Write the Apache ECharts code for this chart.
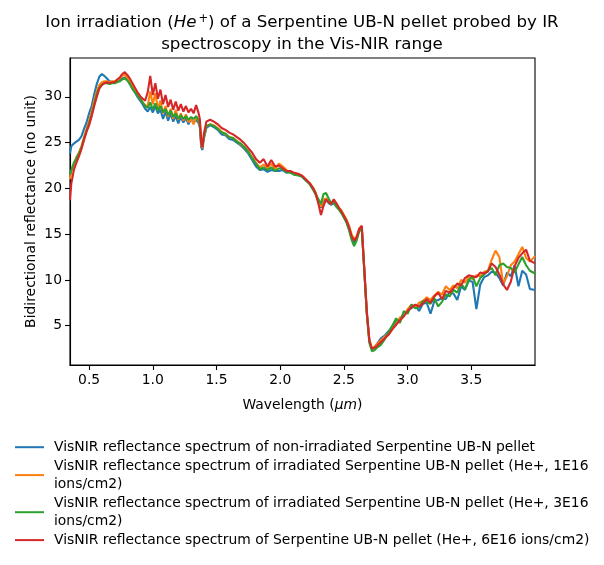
<!DOCTYPE html>
<html>
<head>
<meta charset="utf-8">
<script src="https://cdn.jsdelivr.net/npm/echarts@6/dist/echarts.min.js"></script>
<style>
html,body{margin:0;padding:0;background:#fff;}
#chart{width:604px;height:565px;}
</style>
</head>
<body>
<div id="chart"></div>
<script>
const wavelength = [
0.35,0.36,0.38,0.40,0.42,0.44,0.46,0.48,0.50,0.52,0.54,0.56,0.58,0.60,0.62,0.64,0.66,0.68,0.70,0.72,0.74,0.76,0.78,0.80,0.82,0.84,0.86,0.88,0.90,0.92,0.94,
0.96,0.98,1.00,1.02,1.04,1.06,1.08,1.10,1.12,1.14,1.16,1.18,1.20,1.22,1.24,1.26,1.28,1.30,1.32,1.34,1.36,1.37,1.38,1.39,1.40,1.42,
1.45,1.48,1.51,1.54,1.57,1.60,1.63,1.66,1.69,1.72,1.75,1.78,1.81,1.84,1.87,1.90,1.93,1.96,1.99,2.02,2.05,2.08,2.11,2.14,2.17,2.20,2.23,2.26,2.28,2.30,2.32,2.34,2.36,2.38,2.40,2.42,2.44,2.46,2.48,2.50,2.52,2.54,2.56,2.58,2.60,2.62,
2.64,2.66,2.68,2.70,2.72,2.74,2.76,
2.79,2.82,2.85,2.88,2.91,2.94,2.97,3.00,3.03,3.06,3.09,3.12,3.15,3.18,3.21,3.24,3.27,3.30,3.33,3.36,3.39,3.42,3.45,3.48,3.51,3.54,3.57,3.60,3.63,3.66,3.69,3.72,3.75,3.78,3.81,3.84,3.87,3.90,3.93,3.96,4.00
];

const nonIrradiated = [
23.8,24.6,24.9,25.1,25.3,25.7,26.5,27.2,28.2,29.0,30.3,31.4,32.2,32.5,32.3,32.0,31.7,31.6,31.6,31.8,31.9,32.0,32.1,31.9,31.4,30.9,30.5,30.0,29.6,29.2,28.7,
28.4,28.9,28.3,29.0,28.2,28.6,27.6,28.4,27.4,28.2,27.3,27.9,27.1,27.8,27.2,27.7,27.0,27.6,27.2,27.5,27.1,26.6,24.5,24.2,25.4,26.6,
26.9,26.7,26.4,25.9,25.8,25.4,25.3,25.0,24.7,24.3,23.8,23.1,22.4,22.0,22.1,21.8,22.0,21.9,21.9,22.0,21.7,21.8,21.5,21.5,21.3,20.9,20.5,19.9,19.3,18.5,17.9,18.6,18.7,18.4,18.2,18.4,18.1,17.8,17.4,16.9,16.3,15.5,14.6,14.1,14.6,15.4,
15.8,11.0,6.3,3.3,2.4,2.6,3.0,
3.6,3.9,4.4,4.8,5.5,5.7,6.3,6.6,6.9,7.2,6.6,7.4,7.5,6.3,7.7,7.8,8.0,7.9,8.7,8.5,7.8,9.3,8.9,9.9,9.8,6.8,9.5,10.3,10.5,10.9,10.8,10.2,9.4,10.8,10.4,11.6,9.3,11.0,10.6,9.0,8.9
];

const irradiated1E16 = [
21.0,21.8,22.6,23.4,23.9,24.6,25.6,26.5,27.4,28.4,29.6,30.6,31.3,31.6,31.7,31.7,31.6,31.7,31.7,31.8,32.0,32.3,32.4,32.1,31.6,31.1,30.6,30.2,29.8,29.4,29.1,
29.0,30.6,29.2,30.4,28.7,29.6,28.2,29.0,27.8,28.7,27.6,28.6,27.5,28.2,27.4,28.1,27.2,27.6,27.0,27.9,27.3,26.8,24.8,24.4,25.6,26.8,
27.0,26.9,26.6,26.2,25.9,25.6,25.5,25.2,24.8,24.5,24.0,23.4,22.8,22.3,22.6,22.2,22.7,22.1,22.7,22.4,22.0,21.8,21.6,21.6,21.4,21.0,20.6,20.0,19.5,18.6,18.0,18.8,18.9,18.5,18.3,18.6,18.3,17.9,17.6,17.1,16.6,15.9,15.0,14.4,14.8,15.6,
15.9,11.2,6.5,3.4,2.5,2.7,3.0,
3.4,3.8,4.2,4.7,5.2,5.9,6.1,6.8,7.3,7.0,7.5,7.7,8.1,7.8,8.3,8.7,8.4,9.3,8.9,9.4,9.1,10.0,9.7,10.3,10.1,10.5,10.4,10.9,11.0,12.2,13.2,12.5,9.6,10.4,11.6,12.0,12.8,13.6,12.4,12.0,12.6
];

const irradiated3E16 = [
21.5,22.0,22.8,23.3,23.8,24.5,25.4,26.3,27.1,28.0,29.2,30.3,31.0,31.3,31.5,31.5,31.4,31.5,31.5,31.6,31.7,31.9,32.0,31.8,31.4,30.9,30.5,30.1,29.8,29.4,29.0,
28.8,29.4,28.6,29.3,28.5,29.0,28.3,28.7,28.0,28.5,27.8,28.2,27.6,28.0,27.6,27.9,27.5,27.8,27.6,27.9,27.4,26.9,24.9,24.6,25.6,26.8,
27.0,26.8,26.5,26.1,26.0,25.6,25.5,25.1,24.9,24.5,24.0,23.3,22.7,22.1,22.3,22.0,22.3,21.9,22.2,22.1,21.8,21.7,21.5,21.4,21.3,20.9,20.5,19.8,19.3,18.8,18.3,19.4,19.5,18.9,18.4,18.5,18.0,17.7,17.3,16.8,16.3,15.5,14.4,13.7,14.3,15.3,
15.6,11.0,6.2,3.1,2.2,2.3,2.6,
2.9,3.5,4.3,5.0,5.8,5.3,6.6,6.3,7.3,6.9,7.0,7.7,7.6,7.4,8.0,7.1,7.6,8.4,8.2,8.9,8.6,9.6,9.0,10.0,10.4,9.3,10.2,10.6,11.0,11.3,10.5,11.6,11.8,11.4,11.3,10.8,11.7,12.5,11.6,11.0,10.7
];

const irradiated6E16 = [
18.7,20.5,22.0,22.8,23.5,24.3,25.3,26.2,26.9,27.9,29.0,30.0,30.9,31.3,31.5,31.6,31.5,31.6,31.6,31.9,32.1,32.5,32.7,32.4,32.0,31.5,31.0,30.5,30.1,29.8,29.6,
30.5,32.3,30.2,31.5,29.8,30.8,29.2,30.2,28.9,29.7,28.6,29.5,28.5,29.2,28.4,29.0,28.3,28.7,28.2,29.1,28.2,27.5,25.0,24.5,25.9,27.3,
27.5,27.3,27.0,26.6,26.4,26.1,25.9,25.6,25.3,24.9,24.4,23.9,23.2,22.8,23.2,22.4,23.1,22.4,22.5,22.2,21.9,21.9,21.7,21.6,21.4,21.0,20.6,20.0,19.4,18.3,17.1,18.1,18.8,18.5,18.3,18.8,18.4,17.9,17.5,17.0,16.5,15.8,14.8,14.3,14.6,15.6,
15.9,11.2,6.5,3.4,2.5,2.6,2.8,
3.2,3.6,4.0,4.6,5.1,5.6,6.0,6.6,7.0,7.3,7.1,7.4,7.9,7.5,8.2,8.6,7.9,8.8,8.6,9.1,9.6,9.4,10.2,10.5,10.4,10.3,10.8,10.7,10.9,11.8,11.4,10.6,9.5,8.9,9.8,11.5,12.4,12.9,13.3,12.1,11.8
];

const seriesNames = [
  'VisNIR reflectance spectrum of non-irradiated Serpentine UB-N pellet',
  'VisNIR reflectance spectrum of irradiated Serpentine UB-N pellet (He+, 1E16\nions/cm2)',
  'VisNIR reflectance spectrum of irradiated Serpentine UB-N pellet (He+, 3E16\nions/cm2)',
  'VisNIR reflectance spectrum of Serpentine UB-N pellet (He+, 6E16 ions/cm2)'
];
const seriesColors = ['#1f77b4', '#ff7f0e', '#2ca02c', '#d62728'];
const xTicks = [0.5, 1.0, 1.5, 2.0, 2.5, 3.0, 3.5];
const yTicks = [5, 10, 15, 20, 25, 30];

const allValues = [nonIrradiated, irradiated1E16, irradiated3E16, irradiated6E16];
const FONT = 'DejaVu Sans';

const chart = echarts.init(document.getElementById('chart'), null, {renderer: 'canvas'});
chart.setOption({
  animation: false,
  backgroundColor: '#fff',
  title: [
    {
      text: 'Ion irradiation ({i|He}{s|+}) of a Serpentine UB-N pellet probed by IR',
      left: 'center', top: 8,
      textStyle: {
        fontFamily: FONT, fontSize: 16.67, fontWeight: 'normal', color: '#000',
        rich: {
          i: {fontFamily: FONT, fontSize: 16.67, fontStyle: 'italic', color: '#000'},
          s: {fontFamily: FONT, fontSize: 11.5, color: '#000', verticalAlign: 'top', padding: [0, 0, 8, 2]}
        }
      }
    },
    {
      text: 'spectroscopy in the Vis-NIR range',
      left: 'center', top: 31,
      textStyle: {fontFamily: FONT, fontSize: 16.67, fontWeight: 'normal', color: '#000'}
    }
  ],
  grid: {left: 70, right: 69, top: 58, bottom: 200, show: true, borderColor: '#000', borderWidth: 1.1, containLabel: false},
  legend: {
    orient: 'vertical', left: 15, top: 438, padding: 0,
    itemWidth: 29, itemHeight: 2, itemGap: 0.3,
    icon: 'rect',
    data: seriesNames.map((n, i) => ({name: n, itemStyle: {color: seriesColors[i]}})),
    textStyle: {fontFamily: FONT, fontSize: 13.9, color: '#000', lineHeight: 18.4, padding: [0, 0, 0, 5]}
  },
  xAxis: {
    type: 'value', min: 0.35, max: 4.0,
    name: 'Wavelength ({i|μm})', nameLocation: 'middle', nameGap: 33,
    nameTextStyle: {fontFamily: FONT, fontSize: 13.9, color: '#000',
      rich: {i: {fontFamily: FONT, fontSize: 13.9, fontStyle: 'italic', color: '#000'}}},
    axisLine: {show: true, lineStyle: {color: '#000', width: 1.1}},
    axisTick: {show: true, length: 5, lineStyle: {color: '#000', width: 1.1}, customValues: xTicks},
    axisLabel: {fontFamily: FONT, fontSize: 13.9, color: '#000', margin: 8, customValues: xTicks,
      formatter: v => v.toFixed(1)},
    splitLine: {show: false}
  },
  yAxis: {
    type: 'value', min: 0.7, max: 34.25,
    name: 'Bidirectional reflectance (no unit)', nameLocation: 'middle', nameGap: 32,
    nameMoveOverlap: false,
    nameTextStyle: {fontFamily: FONT, fontSize: 13.9, color: '#000'},
    axisLine: {show: true, lineStyle: {color: '#000', width: 1.1}},
    axisTick: {show: true, length: 5, lineStyle: {color: '#000', width: 1.1}, customValues: yTicks},
    axisLabel: {fontFamily: FONT, fontSize: 13.9, color: '#000', margin: 8, customValues: yTicks,
      formatter: v => String(v)},
    splitLine: {show: false}
  },
  series: allValues.map((vals, i) => ({
    name: seriesNames[i],
    type: 'line',
    showSymbol: false,
    symbol: 'none',
    smooth: false,
    lineStyle: {color: seriesColors[i], width: 2.1},
    itemStyle: {color: seriesColors[i]},
    data: wavelength.map((w, k) => [w, vals[k]]),
    z: 2 + i
  }))
});
</script>
</body>
</html>
